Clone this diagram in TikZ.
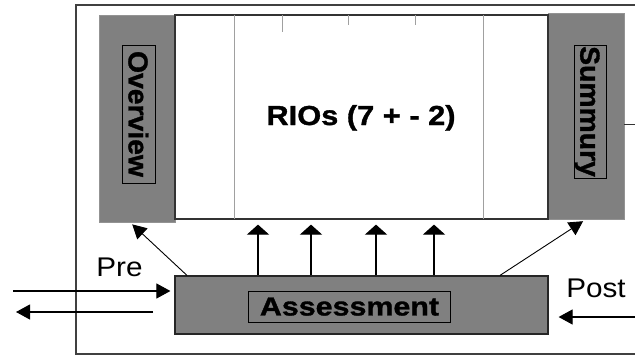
\documentclass[tikz,border=0pt]{standalone}
\usepackage{fontspec}
\setmainfont{Liberation Sans}
\newfontfamily\fontRio[FakeStretch=1.12, BoldFeatures={FakeBold=1.2}]{Liberation Sans}
\newfontfamily\fontAss[FakeStretch=1.17, BoldFeatures={FakeBold=1.2}]{Liberation Sans}
\newfontfamily\fontSide[FakeStretch=1.03, BoldFeatures={FakeBold=1.2}]{Liberation Sans}
\newfontfamily\fontPP[FakeStretch=1.1]{Liberation Sans}
\usetikzlibrary{arrows.meta}
\definecolor{boxgray}{HTML}{808080}
\definecolor{linegray}{HTML}{A0A0A0}
\tikzset{
  frameline/.style={draw=black!75, line width=1.2pt},
  sidebox/.style={rectangle, fill=boxgray, draw=boxgray!85!white, line width=0.6pt, inner sep=0pt},
  riobox/.style={rectangle, fill=white, draw=black!80, line width=1.2pt, inner sep=0pt},
  assessbox/.style={rectangle, fill=boxgray, draw=black!85, line width=1.2pt, inner sep=0pt},
  labelbox/.style={rectangle, draw=black, line width=0.8pt, inner sep=0pt, text depth=0pt},
  innerline/.style={draw=linegray, line width=0.9pt},
  uparrow/.style={draw=black, line width=1.2pt, -{Triangle[width=22pt,length=10pt]}},
  harrow/.style={draw=black, line width=1.1pt, -{Triangle[width=15pt,length=14pt]}},
  darrow/.style={draw=black, line width=0.9pt, -{Triangle[width=15pt,length=14pt]}},
}
\begin{document}
\begin{tikzpicture}[x=1pt,y=-1pt]
\useasboundingbox (0,0) rectangle (635,356);
\fill[white] (0,0) rectangle (635,356);
% outer frame
\draw[frameline] (635,5) -- (76,5) -- (76,354) -- (635,354);
% side boxes
\node[sidebox, minimum width=76, minimum height=207] (ov) at (137,118.5) {};
\node[sidebox, minimum width=76, minimum height=206] (su) at (586,116) {};
% RIOs box
\node[riobox, minimum width=373, minimum height=204] (rio) at (361.5,117) {};
\draw[innerline] (234,15) -- (234,219);
\draw[innerline] (483,15) -- (483,219);
\draw[innerline] (282,15) -- (282,32);
\draw[innerline] (348,15) -- (348,25);
\draw[innerline] (415,15) -- (415,25);
\node[anchor=base, inner sep=0pt, font=\fontRio\bfseries\fontsize{27.5}{30}\selectfont] (riot) at (361,125) {RIOs (7 + - 2)};
% side labels
\node[labelbox, rotate=-90, minimum width=138, minimum height=33, font=\fontSide\bfseries\fontsize{27.5}{30}\selectfont] (ovl) at (138.5,114) {Overview};
\node[labelbox, rotate=-90, minimum width=133, minimum height=32, font=\fontSide\bfseries\fontsize{27.5}{30}\selectfont] (sul) at (590,111.5) {Summury};
% right stub line
\coordinate (stub) at (635,124);
\draw[draw=black!80, line width=1pt] (su.east |- stub) -- (stub);
% assessment
\node[assessbox, minimum width=373, minimum height=58] (as) at (361.5,305) {};
\node[labelbox, minimum width=202, minimum height=31, font=\fontAss\bfseries\fontsize{26}{30}\selectfont] (asl) at (349.5,306.5) {Assessment};
% up arrows
\foreach \x [count=\i] in {258,311,376,434} {
  \coordinate (u\i) at (\x,0);
  \draw[uparrow, shorten >=5pt] (as.north -| u\i) -- (rio.south -| u\i);
}
% diagonal arrows
\coordinate (dl0) at (187,0);
\coordinate (dl1) at (130,0);
\draw[darrow, shorten >=3pt] (as.north -| dl0) -- (ov.south -| dl1);
\coordinate (dr0) at (500,0);
\coordinate (dr1) at (586,0);
\draw[darrow, shorten >=3.5pt] (as.north -| dr0) -- (su.south -| dr1);
% Pre / Post
\node[anchor=base, inner sep=0pt, font=\fontPP\fontsize{27}{30}\selectfont] (pre) at (119.5,276) {Pre};
\node[anchor=base, inner sep=0pt, font=\fontPP\fontsize{27}{30}\selectfont] (post) at (596,297) {Post};
\coordinate (prein) at (13,291);
\draw[harrow, shorten >=4pt] (prein) -- (as.west |- prein);
\coordinate (outs) at (153,312);
\coordinate (oute) at (16,312);
\draw[harrow] (outs) -- (oute);
\coordinate (postin) at (635,317);
\draw[harrow, shorten >=10pt] (postin) -- (as.east |- postin);
\end{tikzpicture}
\end{document}
